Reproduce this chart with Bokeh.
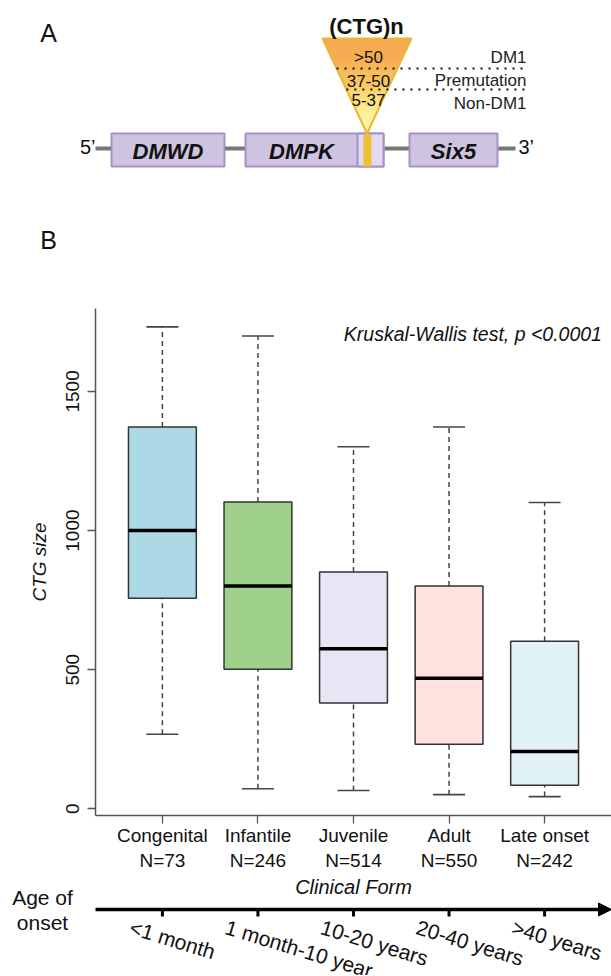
from bokeh.plotting import figure
from bokeh.layouts import column
from bokeh.models import Range1d, FixedTicker, Label, Arrow, NormalHead, ColumnDataSource
from bokeh.transform import dodge
from bokeh.core.properties import value
from bokeh.embed import file_html
from bokeh.resources import INLINE
import math

# ---------------- data ----------------
categories = ["Congenital", "Infantile", "Juvenile", "Adult", "Late onset"]
n_values = [73, 246, 514, 550, 242]
whisker_low = [268, 72, 66, 51, 44]
q1 = [757, 502, 380, 232, 85]
median = [1000, 801, 575, 469, 206]
q3 = [1372, 1103, 851, 801, 602]
whisker_high = [1732, 1699, 1301, 1372, 1101]
box_colors = ["#ADD8E6", "#9FD18B", "#E6E6F4", "#FFE1DE", "#E2F3F8"]
y_ticks = [0, 500, 1000, 1500]
onset_labels = ["<1 month", "1 month-10 year", "10-20 years", "20-40 years", ">40 years"]
repeat_classes = [">50", "37-50", "5-37"]
class_names = ["DM1", "Premutation", "Non-DM1"]
genes = ["DMWD", "DMPK", "Six5"]

FONT = "Liberation Sans"
W = 611

# ---------------- panel A: schematic ----------------
top = figure(width=W, height=260, x_range=Range1d(0, W), y_range=Range1d(260, 0),
             output_backend="svg", toolbar_location=None,
             min_border=0, min_border_left=0, min_border_right=0,
             min_border_top=0, min_border_bottom=0)
top.frame_align = False
top.axis.visible = False
top.grid.visible = False
top.outline_line_color = None

# gene backbone
top.line([95, 515], [148, 148], line_color="#777777", line_width=4)
# gene boxes
gx0 = [111, 245, 409]
gx1 = [224, 383, 497]
top.quad(left=gx0, right=gx1, top=[133] * 3, bottom=[166] * 3,
         fill_color="#CEC3E0", line_color="#A88FCB", line_width=2)
# 3' UTR region of DMPK
top.quad(left=[357], right=[383], top=[133], bottom=[166],
         fill_color="#E2DAEF", line_color="#A88FCB", line_width=2)
# repeat bar
top.quad(left=[363], right=[371], top=[134], bottom=[166],
         fill_color="#EFC233", line_color=None)

# triangle with gradient
stops = [(38, (245, 168, 78)), (62, (246, 174, 80)), (80, (248, 194, 94)),
         (95, (251, 219, 122)), (112, (253, 238, 154)), (133, (255, 246, 168))]
def col_at(y):
    for (ya, ca), (yb, cb) in zip(stops[:-1], stops[1:]):
        if ya <= y <= yb:
            t = (y - ya) / (yb - ya)
            c = [int(round(a + (b - a) * t)) for a, b in zip(ca, cb)]
            return "#%02x%02x%02x" % tuple(c)
    return "#%02x%02x%02x" % stops[-1][1]
tx_c, ty_top, ty_apex, thw = 366.5, 38.0, 133.0, 44.5
nsl = 48
xs_list, ys_list, cols = [], [], []
for k in range(nsl):
    ya = ty_top + (ty_apex - ty_top) * k / nsl
    yb = ty_top + (ty_apex - ty_top) * (k + 1) / nsl
    ha = thw * (ty_apex - ya) / (ty_apex - ty_top)
    hb = thw * (ty_apex - yb) / (ty_apex - ty_top)
    xs_list.append([tx_c - ha, tx_c + ha, tx_c + hb, tx_c - hb])
    ys_list.append([ya, ya, yb + 0.6, yb + 0.6])
    cols.append(col_at((ya + yb) / 2))
top.patches(xs_list, ys_list, fill_color=cols, line_color=None)
top.patch([tx_c - thw, tx_c + thw, tx_c], [ty_top, ty_top, ty_apex],
          fill_color=None, line_color="#EDB630", line_width=2)

# dotted thresholds
for yy in [68, 89]:
    hw = thw * (ty_apex - yy) / (ty_apex - ty_top)
    top.line([tx_c - hw, 526], [yy, yy], line_color="#111111", line_width=2, line_dash="2 6")

top.text(x=[368] * 3, y=[57, 80, 99], text=repeat_classes, text_font=value(FONT),
         text_font_size="17px", text_align="center", text_baseline="middle", text_color="#111111")
top.text(x=[526] * 3, y=[57, 80, 103], text=class_names, text_font=value(FONT),
         text_font_size="17px", text_align="right", text_baseline="middle", text_color="#222222")
top.text(x=[366], y=[26], text=["(CTG)n"], text_font=value(FONT), text_font_style="bold",
         text_font_size="22px", text_align="center", text_baseline="middle", text_color="#111111")
top.text(x=[(a + b) / 2 for a, b in zip(gx0, [224, 357, 497])], y=[151] * 3, text=genes,
         text_font=value(FONT), text_font_style="bold italic", text_font_size="22px",
         text_align="center", text_baseline="middle", text_color="#111111")
top.text(x=[95], y=[146], text=["5\u2019"], text_font=value(FONT), text_font_size="20px",
         text_align="right", text_baseline="middle", text_color="#111111")
top.text(x=[518], y=[146], text=["3\u2019"], text_font=value(FONT), text_font_size="20px",
         text_align="left", text_baseline="middle", text_color="#111111")
top.text(x=[48, 48], y=[32, 239], text=["A", "B"], text_font=value(FONT), text_font_size="25px",
         text_align="center", text_baseline="middle", text_color="#111111")

# ---------------- panel B: boxplot ----------------
xs = list(range(1, len(categories) + 1))
x_start, x_end = 0.3, 5.7
y_start, y_end = -24, 1798
left_border = 95
box = figure(width=W, height=615, x_range=Range1d(x_start, x_end), y_range=Range1d(y_start, y_end),
             output_backend="svg", toolbar_location=None,
             min_border_left=left_border, min_border_right=0, min_border_top=48, min_border_bottom=60)
box.frame_align = False
box.grid.visible = False
box.outline_line_color = None
box.background_fill_color = "white"

src = ColumnDataSource(dict(x=xs, low=whisker_low, q1=q1, med=median, q3=q3, high=whisker_high,
                            color=box_colors))
bw, cw = 0.71, 0.335
box.segment(x0="x", y0="q3", x1="x", y1="high", source=src, line_color="#444444",
            line_width=1.5, line_dash="5 4")
box.segment(x0="x", y0="low", x1="x", y1="q1", source=src, line_color="#444444",
            line_width=1.5, line_dash="5 4")
box.segment(x0=dodge("x", -cw / 2), y0="high", x1=dodge("x", cw / 2), y1="high", source=src,
            line_color="#444444", line_width=1.6)
box.segment(x0=dodge("x", -cw / 2), y0="low", x1=dodge("x", cw / 2), y1="low", source=src,
            line_color="#444444", line_width=1.6)
box.vbar(x="x", width=bw, bottom="q1", top="q3", source=src, fill_color="color",
         line_color="#333333", line_width=1.5)
box.segment(x0=dodge("x", -bw / 2), y0="med", x1=dodge("x", bw / 2), y1="med", source=src,
            line_color="#000000", line_width=3.5)

box.xaxis.ticker = FixedTicker(ticks=xs)
box.xaxis.major_label_overrides = {x: "%s\nN=%d" % (c, n) for x, c, n in zip(xs, categories, n_values)}
box.yaxis.ticker = FixedTicker(ticks=y_ticks)
box.yaxis.major_label_orientation = "vertical"
box.yaxis.axis_label = "CTG size"
box.yaxis.axis_label_text_font_style = "italic"
for ax in [box.xaxis[0], box.yaxis[0]]:
    ax.axis_line_color = "#555555"
    ax.axis_line_width = 1.5
    ax.major_tick_line_color = "#555555"
    ax.major_tick_line_width = 1.3
    ax.major_tick_in = 0
    ax.major_tick_out = 8
    ax.minor_tick_line_color = None
    ax.major_label_text_font = FONT
    ax.major_label_text_font_size = "19px"
    ax.major_label_text_color = "#111111"
    ax.axis_label_text_font = FONT
    ax.axis_label_text_font_size = "19px"
    ax.axis_label_text_color = "#111111"
box.xaxis.major_label_standoff = 1
box.yaxis.major_label_standoff = 8
box.yaxis.axis_label_standoff = 14

box.add_layout(Label(x=5.6, y=1708, text="Kruskal-Wallis test, p <0.0001", text_align="right",
                     text_baseline="middle", text_font=FONT, text_font_style="italic",
                     text_font_size="19.5px", text_color="#111111"))

# ---------------- age of onset strip ----------------
frame_px = W - left_border
px_per_unit = frame_px / (x_end - x_start)
ox_start = x_start - left_border / px_per_unit
on = figure(width=W, height=100, x_range=Range1d(ox_start, x_end), y_range=Range1d(975, 875),
            output_backend="svg", toolbar_location=None,
            min_border=0, min_border_left=0, min_border_right=0, min_border_top=0, min_border_bottom=0)
on.frame_align = False
on.axis.visible = False
on.grid.visible = False
on.outline_line_color = None

on.text(x=[sum(xs) / len(xs)], y=[886], text=["Clinical Form"], text_font=value(FONT),
        text_font_style="italic", text_font_size="20px", text_align="center",
        text_baseline="middle", text_color="#111111")
on.add_layout(Arrow(x_start=x_start, y_start=909, x_end=x_end, y_end=909, line_width=3.5,
                    line_color="black",
                    end=NormalHead(size=13, fill_color="black", line_color="black")))
on.segment(x0=xs, y0=[909] * 5, x1=xs, y1=[916] * 5, line_color="black", line_width=3)
age_x = ox_start + 42 / px_per_unit
on.text(x=[age_x, age_x], y=[897, 922], text=["Age of", "onset"], text_font=value(FONT),
        text_font_size="21px", text_align="center", text_baseline="middle", text_color="#111111")
on.text(x=[x - 0.3 for x in xs], y=[915] * 5, text=onset_labels, text_font=value(FONT),
        text_font_size="21px", text_align="left", text_baseline="top",
        angle=-17 * math.pi / 180, text_color="#111111")

layout = column(top, box, on, spacing=0)
open("out.html", "w").write(file_html(layout, INLINE))
